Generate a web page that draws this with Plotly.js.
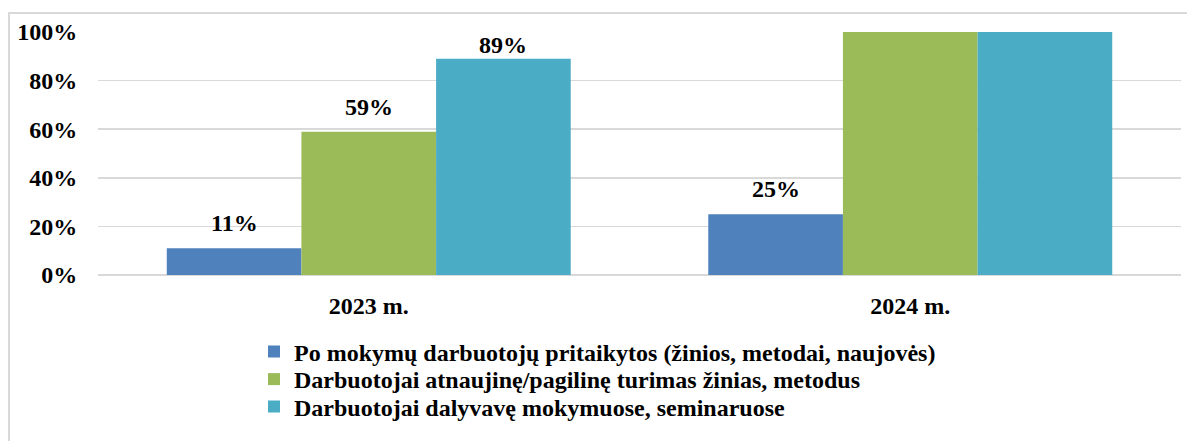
<!DOCTYPE html>
<html>
<head>
<meta charset="utf-8">
<script src="https://cdn.plot.ly/plotly-3.0.1.min.js"></script>
<style>
  html, body { margin: 0; padding: 0; background: #ffffff; }
  #wrap { position: relative; width: 1187px; height: 441px; overflow: hidden; }
  #chart { position: absolute; left: 0; top: 0; width: 1187px; height: 441px; }
  #frame { position: absolute; left: 8px; top: 12px; width: 1300px; height: 600px;
           border-left: 2px solid #d9d9d9; border-top: 2px solid #d9d9d9; pointer-events: none; }
</style>
</head>
<body>
<div id="wrap">
  <div id="chart"></div>
  <div id="frame"></div>
</div>
<script>
const categories = ["2023 m.", "2024 m."];
const seriesNames = [
  "Po mokymų darbuotojų pritaikytos (žinios, metodai, naujovės)",
  "Darbuotojai atnaujinę/pagilinę turimas žinias, metodus",
  "Darbuotojai dalyvavę mokymuose, seminaruose"
];
const appliedValues = [11, 25];
const updatedValues = [59, 100];
const attendedValues = [89, 100];
const appliedLabels = ["11%", "25%"];
const updatedLabels = ["59%", ""];
const attendedLabels = ["89%", ""];
const yTickValues = [0, 20, 40, 60, 80, 100];
const yTickLabels = ["0%", "20%", "40%", "60%", "80%", "100%"];

const colors = ["#4F81BD", "#9BBB59", "#4BACC6"];
const allValues = [appliedValues, updatedValues, attendedValues];
const allLabels = [appliedLabels, updatedLabels, attendedLabels];
function mkFont(size) {
  return { family: "Liberation Serif", color: "#000000", size: size || 24 };
}

const W = 1187, H = 441;
const M = { l: 98, r: 6, t: 32, b: 166 };
const plotH = H - M.t - M.b;
const legendIds = ["legend", "legend2", "legend3"];
const legendCenters = [352, 379.5, 407];

const traces = allValues.map((vals, i) => ({
  type: "bar",
  name: "<b>" + seriesNames[i] + "</b>",
  x: categories,
  y: vals,
  marker: { color: colors[i] },
  offsetgroup: String(i),
  legend: legendIds[i],
  hoverinfo: "skip"
}));

const groupWidth = 1 - 0.254;
const barW = groupWidth / 3;
const annotations = [];
allLabels.forEach((labs, i) => {
  labs.forEach((t, j) => {
    if (!t) return;
    const v = allValues[i][j];
    const barTopPx = plotH * (1 - v / 100);
    annotations.push({
      xref: "x", yref: "y",
      x: j - groupWidth / 2 + barW * (i + 0.5),
      y: v,
      text: "<b>" + t + "</b>",
      showarrow: false,
      yanchor: "bottom",
      yshift: Math.min(10, barTopPx - 28),
      font: mkFont(24)
    });
  });
});

const layout = {
  width: W, height: H,
  margin: M,
  paper_bgcolor: "#ffffff",
  plot_bgcolor: "#ffffff",
  barmode: "group",
  bargap: 0.254,
  bargroupgap: 0,
  showlegend: true,
  font: mkFont(24),
  xaxis: {
    type: "category",
    tickfont: mkFont(24),
    tickprefix: "<b>", ticksuffix: "</b>",
    ticks: "outside", ticklen: 9, tickcolor: "rgba(0,0,0,0)",
    showgrid: false, showline: false, zeroline: false,
    fixedrange: true
  },
  yaxis: {
    range: [0, 100],
    tickvals: yTickValues,
    ticktext: yTickLabels.map(t => "<b>" + t + "</b>"),
    tickfont: mkFont(24),
    ticks: "outside", ticklen: 15, tickcolor: "rgba(0,0,0,0)",
    showgrid: true, gridcolor: "#d9d9d9", gridwidth: 1.5,
    zeroline: true, zerolinecolor: "#d9d9d9", zerolinewidth: 1.5,
    showline: false,
    fixedrange: true
  },
  annotations: annotations
};

legendIds.forEach((id, i) => {
  layout[id] = {
    orientation: "v",
    x: (254 - M.l) / (W - M.l - M.r), xanchor: "left",
    yref: "container",
    y: 1 - legendCenters[i] / H, yanchor: "middle",
    font: mkFont(24),
    itemwidth: 30,
    bgcolor: "rgba(0,0,0,0)"
  };
});

Plotly.newPlot("chart", traces, layout, { displayModeBar: false, staticPlot: true });
</script>
</body>
</html>
